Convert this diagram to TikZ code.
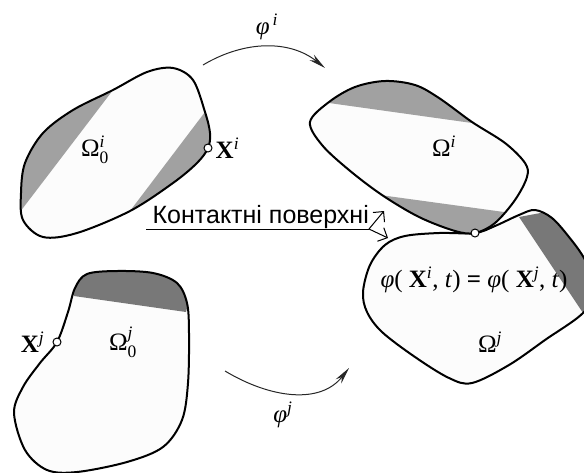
\documentclass[tikz,border=0pt]{standalone}
\usepackage{amsmath}
\usepackage{fontspec}
\setmainfont{Liberation Serif}
\setsansfont{Liberation Sans}
\usetikzlibrary{arrows.meta, positioning}
\tikzset{
    % Colors
    shadeMid/.style={fill=black!37},
    shadeDark/.style={fill=black!53},
    % Shapes
    blobFill/.style={fill=black!1},
    blobLine/.style={draw=black, line width=2pt, line join=round},
    joint/.style={circle, draw=black, fill=white, line width=1pt, minimum size=8pt, inner sep=0pt},
    % Flow & Labels
    flow/.style={-{Stealth[length=17pt, width=7pt]}, line width=1pt, black!85},
    pointer/.style={-{Straight Barb[length=7.5pt, width=15pt]}, line width=1pt},
    lbl/.style={font=\fontsize{25}{28}\selectfont, inner sep=0pt},
    capt/.style={font=\sffamily\fontsize{25}{28}\selectfont, inner sep=0pt}
}
\newcommand{\phisym}{\textit{φ}}
\newcommand{\tidx}[1]{\textit{#1}}

\def\blobI{plot[smooth cycle, tension=0.55] coordinates {(208,148) (210,133) (205,112) (193,80) (173,68) (147,72) (113,90) (73,110) (43,133) (25,163) (21,193) (23,220) (43,237) (77,233) (130,211) (173,183) (197,163)}}
\def\blobJ{plot[smooth cycle, tension=0.55] coordinates {(57,342) (68,312) (75,288) (87,274) (117,271) (153,273) (177,283) (187,303) (189,333) (188,383) (182,420) (163,447) (127,462) (77,472) (47,470) (25,450) (14,413) (23,387) (40,363)}}
\def\blobCurI{plot[smooth cycle, tension=0.55] coordinates {(310,122) (329,102) (355,87) (385,81) (415,85) (439,98) (472,122) (505,143) (525,163) (527,177) (515,200) (495,223) (475,233) (455,231) (419,217) (382,195) (349,170) (322,145)}}
\def\blobCurJ{plot[smooth cycle, tension=0.55] coordinates {(475,233) (495,226) (519,215) (535,210) (552,218) (569,237) (584,258) (596,285) (584,312) (545,340) (509,365) (472,383) (449,378) (415,357) (382,332) (367,312) (363,292) (370,265) (385,245) (405,236) (439,233)}}

\begin{document}
\begin{tikzpicture}[x=1pt, y=-1pt]
\useasboundingbox (0,0) rectangle (584,472);

% reference bodies
\fill[blobFill] \blobI;
\begin{scope}
    \clip \blobI;
    \fill[shadeMid] (113,90) -- (23,208) -- (0,240) -- (0,60) -- cycle;
    \fill[shadeMid] (205,112) -- (130,211) -- (120,250) -- (230,170) -- cycle;
\end{scope}
\draw[blobLine] \blobI;

\fill[blobFill] \blobJ;
\begin{scope}
    \clip \blobJ;
    \fill[shadeDark] (74,296) -- (186,312) -- (200,260) -- (60,260) -- cycle;
\end{scope}
\draw[blobLine] \blobJ;

% current bodies
\fill[blobFill] \blobCurJ;
\begin{scope}
    \clip \blobCurJ;
    \fill[shadeDark] (519,217) -- (583,313) -- (610,330) -- (610,200) -- cycle;
\end{scope}
\draw[blobLine] \blobCurJ;

\fill[blobFill] \blobCurI;
\begin{scope}
    \clip \blobCurI;
    \fill[shadeMid] (329,103) -- (472,123) -- (480,70) -- (320,70) -- cycle;
    \fill[shadeMid] (380,195) -- (504,212) -- (500,245) -- (370,240) -- cycle;
\end{scope}
\draw[blobLine] \blobCurI;

\node[joint] (ptXi) at (208,148) {};
\node[joint] (ptXj) at (57,342) {};
\node[joint] (ptCont) at (475,233) {};

\node[lbl] (omZi) at (95,150) {Ω$^{\tidx{i}}_{\text{0}}$};
\node[lbl] (omZj) at (123,342) {Ω$^{\tidx{j}}_{\text{0}}$};
\node[lbl] (omI) at (444,146) {Ω$^{\tidx{i}}$};
\node[lbl] (omJ) at (490,342) {Ω$^{\tidx{j}}$};
\node[lbl, right=3pt of ptXi] (labXi) {\textbf{X}$^{\tidx{i}}$};
\node[lbl, left=8pt of ptXj] (labXj) {\textbf{X}$^{\tidx{j}}$};
\node[lbl] (labEq) at (474,280) {\phisym( \textbf{X}$^{\tidx{i}}$, \textit{t}) \textbf{=} \phisym( \textbf{X}$^{\tidx{j}}$, \textit{t})};
\node[lbl] (labPhiI) at (267,27) {\phisym$^{\,\tidx{i}}$};
\node[lbl] (labPhiJ) at (283,415) {\phisym$^{\tidx{j}}$};

\node[capt, anchor=south east] (capt) at (369,229) {Контактні поверхні};
\coordinate (captStart) at (146,229);
\coordinate (tipUp) at (384,211);
\coordinate (tipDown) at (388,238);

\coordinate (flowIa) at (203,65);
\coordinate (flowIb) at (325,68);
\coordinate (flowJa) at (225,371);
\coordinate (flowJb) at (349,368);

\draw[flow] (flowIa) .. controls (245,40) and (290,40) .. (flowIb);
\draw[flow] (flowJa) .. controls (270,398) and (320,405) .. (flowJb);

\draw[line width=1pt] (captStart) -- (capt.south east);
\draw[pointer] (capt.south east) -- (tipUp);
\draw[pointer] (capt.south east) -- (tipDown);

\end{tikzpicture}
\end{document}
